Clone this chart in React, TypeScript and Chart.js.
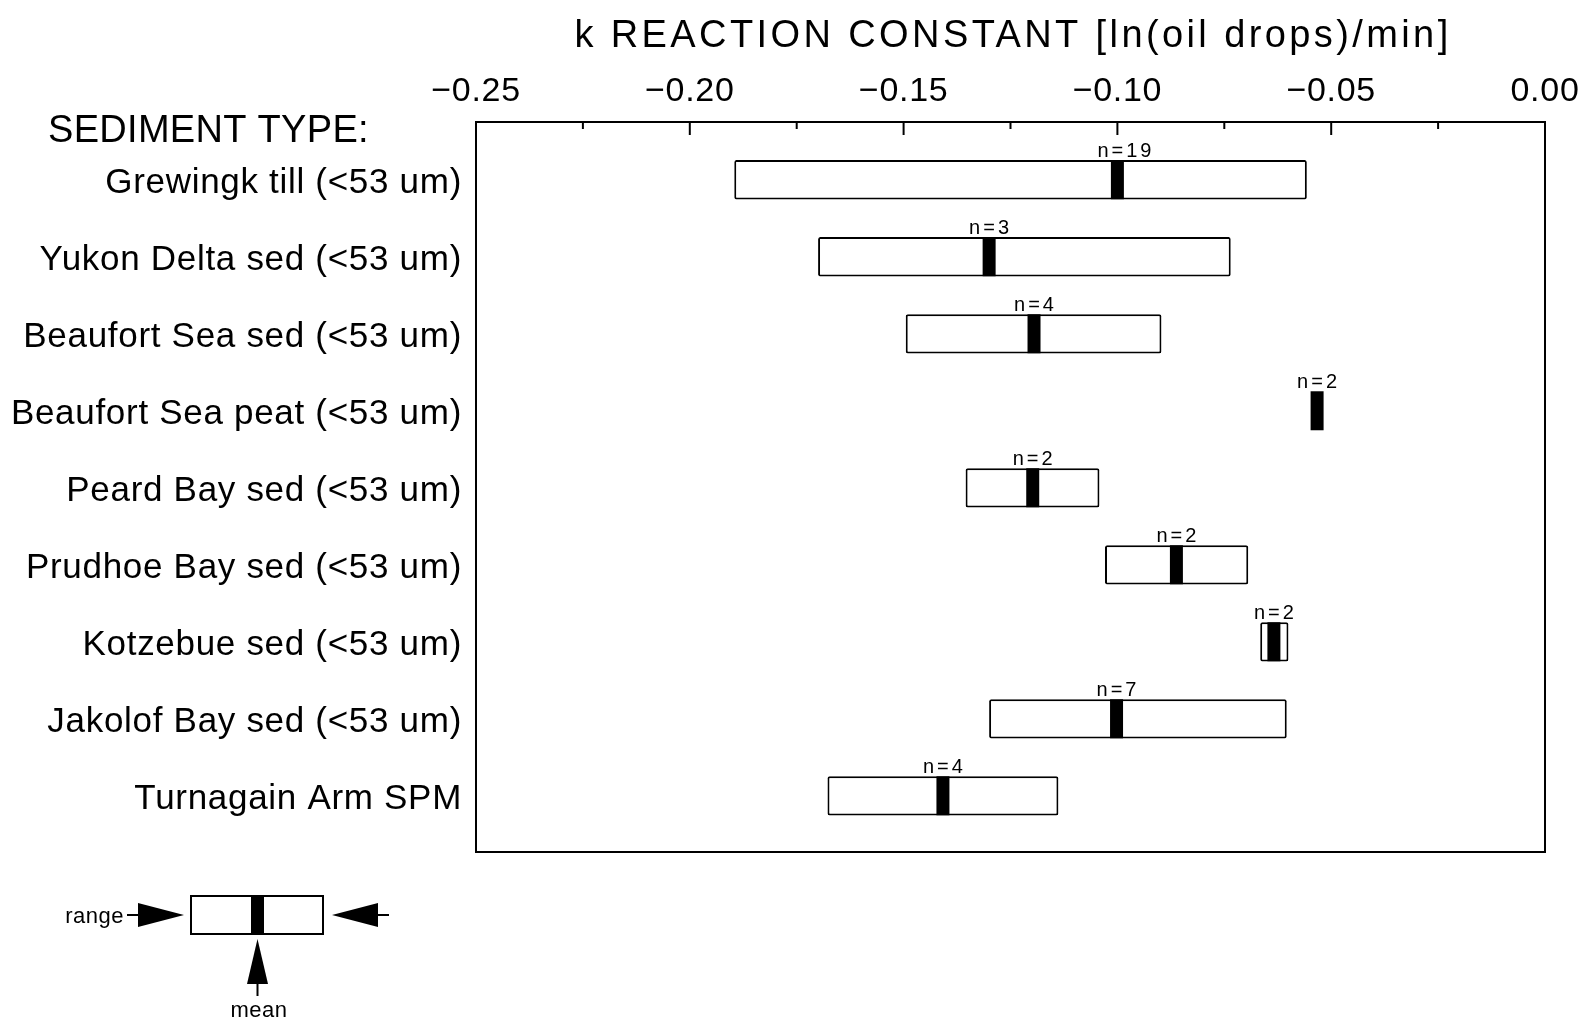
import React, { useEffect, useRef } from 'react';
import { Chart, registerables } from 'chart.js';

Chart.register(...registerables);

const categories = [
  'Grewingk till (<53 um)',
  'Yukon Delta sed (<53 um)',
  'Beaufort Sea sed (<53 um)',
  'Beaufort Sea peat (<53 um)',
  'Peard Bay sed (<53 um)',
  'Prudhoe Bay sed (<53 um)',
  'Kotzebue sed (<53 um)',
  'Jakolof Bay sed (<53 um)',
  'Turnagain Arm SPM',
];
const rangeMin: (number | null)[] = [-0.1896, -0.170, -0.1495, null, -0.1355, -0.1029, -0.0666, -0.130, -0.1678];
const rangeMax: (number | null)[] = [-0.0557, -0.0735, -0.0897, null, -0.1042, -0.0694, -0.0600, -0.0604, -0.1138];
const means = [-0.100, -0.130, -0.1195, -0.0533, -0.1198, -0.0862, -0.0634, -0.1002, -0.1408];
const nCounts = [19, 3, 4, 2, 2, 2, 2, 7, 4];
const xTickValues = [-0.25, -0.2, -0.15, -0.1, -0.05, 0];
const minorTickValues = [-0.225, -0.175, -0.125, -0.075, -0.025];

const FONT = "'Liberation Sans', Arial, sans-serif";

const decorPlugin = {
  id: 'decor',
  beforeDraw(chart: any) {
    const ctx = chart.ctx;
    ctx.letterSpacing = '0.7px';
  },
  afterDatasetsDraw(chart: any) {
    const ctx = chart.ctx;
    const meta = chart.getDatasetMeta(1);
    ctx.save();
    ctx.letterSpacing = '3px';
    ctx.font = `20px ${FONT}`;
    ctx.fillStyle = '#000';
    ctx.textAlign = 'left';
    ctx.textBaseline = 'alphabetic';
    meta.data.forEach((pt: any, i: number) => {
      const r = pt.options.radius;
      ctx.fillText(`n=${nCounts[i]}`, pt.x - 20, pt.y - r - 3);
    });
    ctx.restore();
  },
  afterDraw(chart: any) {
    const ctx = chart.ctx;
    const { left, right, top, bottom } = chart.chartArea;
    const xs = chart.scales.x;
    ctx.save();
    ctx.strokeStyle = '#000';
    ctx.fillStyle = '#000';
    // frame
    ctx.lineWidth = 2;
    ctx.strokeRect(left, top, right - left, bottom - top);
    // inward ticks
    xTickValues.forEach((v) => {
      const px = xs.getPixelForValue(v);
      ctx.beginPath();
      ctx.moveTo(px, top);
      ctx.lineTo(px, top + 13);
      ctx.stroke();
    });
    minorTickValues.forEach((v) => {
      const px = xs.getPixelForValue(v);
      ctx.beginPath();
      ctx.moveTo(px, top);
      ctx.lineTo(px, top + 7);
      ctx.stroke();
    });
    // title
    ctx.letterSpacing = '3.4px';
    ctx.font = `38px ${FONT}`;
    ctx.textAlign = 'center';
    ctx.textBaseline = 'alphabetic';
    ctx.fillText('k REACTION CONSTANT [ln(oil drops)/min]', 1013, 47);
    // sediment type heading
    ctx.letterSpacing = '0.3px';
    ctx.font = `38px ${FONT}`;
    ctx.textAlign = 'left';
    ctx.fillText('SEDIMENT TYPE:', 48, 142);

    // legend key
    ctx.lineWidth = 2;
    ctx.strokeRect(191, 896, 132, 38);
    ctx.fillRect(251, 896, 13, 38);
    // left arrow
    ctx.beginPath();
    ctx.moveTo(127, 915);
    ctx.lineTo(140, 915);
    ctx.stroke();
    ctx.beginPath();
    ctx.moveTo(138, 903);
    ctx.lineTo(184, 915);
    ctx.lineTo(138, 927);
    ctx.closePath();
    ctx.fill();
    // right arrow
    ctx.beginPath();
    ctx.moveTo(376, 915);
    ctx.lineTo(389, 915);
    ctx.stroke();
    ctx.beginPath();
    ctx.moveTo(378, 903);
    ctx.lineTo(332, 915);
    ctx.lineTo(378, 927);
    ctx.closePath();
    ctx.fill();
    // up arrow
    ctx.beginPath();
    ctx.moveTo(257.5, 982);
    ctx.lineTo(257.5, 996);
    ctx.stroke();
    ctx.beginPath();
    ctx.moveTo(257.5, 939);
    ctx.lineTo(247, 984);
    ctx.lineTo(268, 984);
    ctx.closePath();
    ctx.fill();
    // legend texts
    ctx.letterSpacing = '0.5px';
    ctx.font = `22px ${FONT}`;
    ctx.textAlign = 'right';
    ctx.textBaseline = 'middle';
    ctx.fillText('range', 124, 917);
    ctx.textAlign = 'center';
    ctx.textBaseline = 'alphabetic';
    ctx.fillText('mean', 259, 1017);
    ctx.restore();
  },
};

export default function App() {
  const ref = useRef<HTMLCanvasElement | null>(null);
  useEffect(() => {
    if (!ref.current) return;
    const barData = categories.map((_, i) => ({
      y: i,
      x: rangeMin[i] == null || rangeMax[i] == null ? null : [rangeMin[i], rangeMax[i]],
    }));
    const meanData = categories.map((_, i) => ({ x: means[i], y: i }));
    const chart = new Chart(ref.current, {
      type: 'bar',
      data: {
        datasets: [
          {
            type: 'bar',
            label: 'range',
            indexAxis: 'y',
            order: 1,
            data: barData as any,
            backgroundColor: '#ffffff',
            borderColor: '#000000',
            borderWidth: 2,
            borderSkipped: false,
            borderRadius: 2,
            barPercentage: 0.51,
            categoryPercentage: 1,
            xAxisID: 'x',
            yAxisID: 'y',
          } as any,
          {
            type: 'scatter',
            label: 'mean',
            order: 0,
            data: meanData,
            pointStyle: 'line',
            rotation: 90,
            radius: 19.5,
            hoverRadius: 19.5,
            borderWidth: 13,
            borderColor: '#000000',
            backgroundColor: '#000000',
            xAxisID: 'x',
            yAxisID: 'y',
          } as any,
        ],
      },
      options: {
        animation: false,
        responsive: false,
        events: [],
        layout: { padding: { top: 0, right: 40, bottom: 167, left: 0 } },
        plugins: {
          legend: { display: false },
          tooltip: { enabled: false },
          title: { display: false },
        },
        scales: {
          x: {
            type: 'linear',
            position: 'top',
            offset: false,
            min: -0.25,
            max: 0,
            grid: { display: false, drawTicks: false, offset: false },
            border: { display: false },
            afterBuildTicks: (scale: any) => {
              scale.ticks = xTickValues.map((v) => ({ value: v }));
            },
            afterFit: (scale: any) => {
              scale.height = 122;
              scale.paddingLeft = 0;
              scale.paddingRight = 0;
            },
            ticks: {
              padding: 10,
              color: '#000',
              font: { family: FONT, size: 34 },
              maxRotation: 0,
              autoSkip: false,
              callback: (v: any) => {
                const n = Number(v);
                const s = Math.abs(n).toFixed(2);
                return n < -1e-9 ? '\u2212' + s : s;
              },
            },
          },
          y: {
            type: 'linear',
            position: 'left',
            offset: false,
            min: -0.75,
            max: 8.73,
            reverse: true,
            grid: { display: false, drawTicks: false, offset: false },
            border: { display: false },
            afterBuildTicks: (scale: any) => {
              scale.ticks = categories.map((_, i) => ({ value: i }));
            },
            afterFit: (scale: any) => {
              scale.width = 476;
              scale.paddingTop = 0;
              scale.paddingBottom = 0;
            },
            ticks: {
              padding: 14,
              labelOffset: 4,
              color: '#000',
              autoSkip: false,
              font: { family: FONT, size: 35 },
              callback: (v: any) => categories[Math.round(Number(v))] ?? '',
            },
          },
        },
      } as any,
      plugins: [decorPlugin],
    });
    return () => chart.destroy();
  }, []);
  return (
    <div style={{ position: 'fixed', left: 0, top: 0, width: 1585, height: 1019, background: '#fff' }}>
      <canvas ref={ref} width={1585} height={1019} style={{ display: 'block' }} />
    </div>
  );
}
